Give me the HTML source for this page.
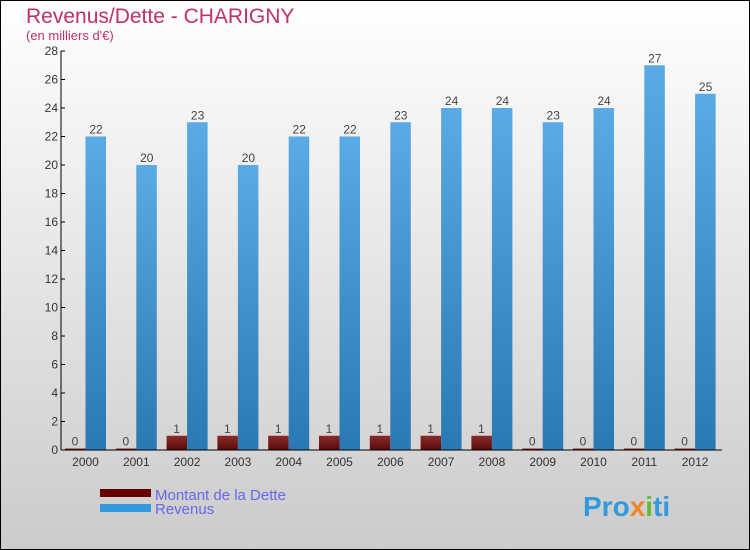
<!DOCTYPE html>
<html><head><meta charset="utf-8"><style>
body{margin:0}
svg{display:block;font-family:"Liberation Sans",sans-serif}
</style></head><body>
<svg width="750" height="550" xmlns="http://www.w3.org/2000/svg">
<defs>
<linearGradient id="bg" x1="0" y1="0" x2="0" y2="1"><stop offset="0" stop-color="#ffffff"/><stop offset="1" stop-color="#cbcbcb"/></linearGradient>
<linearGradient id="gb" x1="0" y1="0" x2="0" y2="1"><stop offset="0" stop-color="#5aaae6"/><stop offset="1" stop-color="#2a78b4"/></linearGradient>
<linearGradient id="gr" x1="0" y1="0" x2="0" y2="1"><stop offset="0" stop-color="#8a2a2a"/><stop offset="1" stop-color="#5a0a0a"/></linearGradient>
</defs>
<rect x="0.5" y="0.5" width="749" height="549" fill="url(#bg)" stroke="#000"/>
<text x="26" y="23" font-size="21" fill="#c0306a">Revenus/Dette - CHARIGNY</text>
<text x="26" y="40" font-size="13" fill="#c0306a">(en milliers d'€)</text>
<g id="plot"></g>
<rect x="100" y="489" width="51" height="8" fill="#660000"/>
<rect x="100" y="504" width="51" height="8" fill="#3399dd"/>
<text x="155" y="500" font-size="15" fill="#6666ee">Montant de la Dette</text>
<text x="155" y="514" font-size="15" fill="#6666ee">Revenus</text>
<text x="583" y="516" font-size="28" font-weight="bold" fill="#3399dd">Pro<tspan fill="#ee8822">x</tspan><tspan fill="#66bb33">i</tspan>ti</text>
</svg>
<script>
const years=["2000","2001","2002","2003","2004","2005","2006","2007","2008","2009","2010","2011","2012"];
const dette=[0,0,1,1,1,1,1,1,1,0,0,0,0];
const revenus=[22,20,23,20,22,22,23,24,24,23,24,27,25];
const yTicks=[0,2,4,6,8,10,12,14,16,18,20,22,24,26,28];
const NS="http://www.w3.org/2000/svg";
const g=document.getElementById("plot");
const x0=61,gw=50.8,y0=450,yTop=51,yMax=28;
const Y=v=>y0-v*(y0-yTop)/yMax;
function mk(t,a){const e=document.createElementNS(NS,t);for(const k in a)e.setAttribute(k,a[k]);g.appendChild(e);return e;}
years.forEach((yr,i)=>{
 const s=x0+i*gw;
 const hd=Math.max(y0-Y(dette[i]),1.5);
 const r1=mk("rect",{x:s+4,y:y0-hd,width:20.5,height:hd,fill:"url(#gr)"});
 
 
 const r2=mk("rect",{x:s+24.5,y:Y(revenus[i]),width:20.5,height:y0-Y(revenus[i]),fill:"url(#gb)"});
 
 
 const t1=mk("text",{x:s+14,y:y0-hd-3,"font-size":12,fill:"#444","text-anchor":"middle"});t1.textContent=dette[i];
 
 
 const t2=mk("text",{x:s+35,y:Y(revenus[i])-3,"font-size":12,fill:"#444","text-anchor":"middle"});t2.textContent=revenus[i];
 
 
 const xl=mk("text",{x:s+24.5,y:466,"font-size":12,fill:"#333","text-anchor":"middle"});xl.textContent=yr;
 
 
});
yTicks.forEach(v=>{
 const tk=mk("line",{x1:x0,x2:x0+4,y1:Y(v),y2:Y(v),stroke:"#000"});
 
 
 const tl=mk("text",{x:x0-3,y:Y(v)+4,"font-size":12,fill:"#333","text-anchor":"end"});tl.textContent=v;
 
 
});
const ya=mk("line",{x1:x0,x2:x0,y1:yTop,y2:y0,stroke:"#000"});


const xa=mk("line",{x1:x0,x2:722,y1:y0,y2:y0,stroke:"#000"});


</script>
</body></html>
